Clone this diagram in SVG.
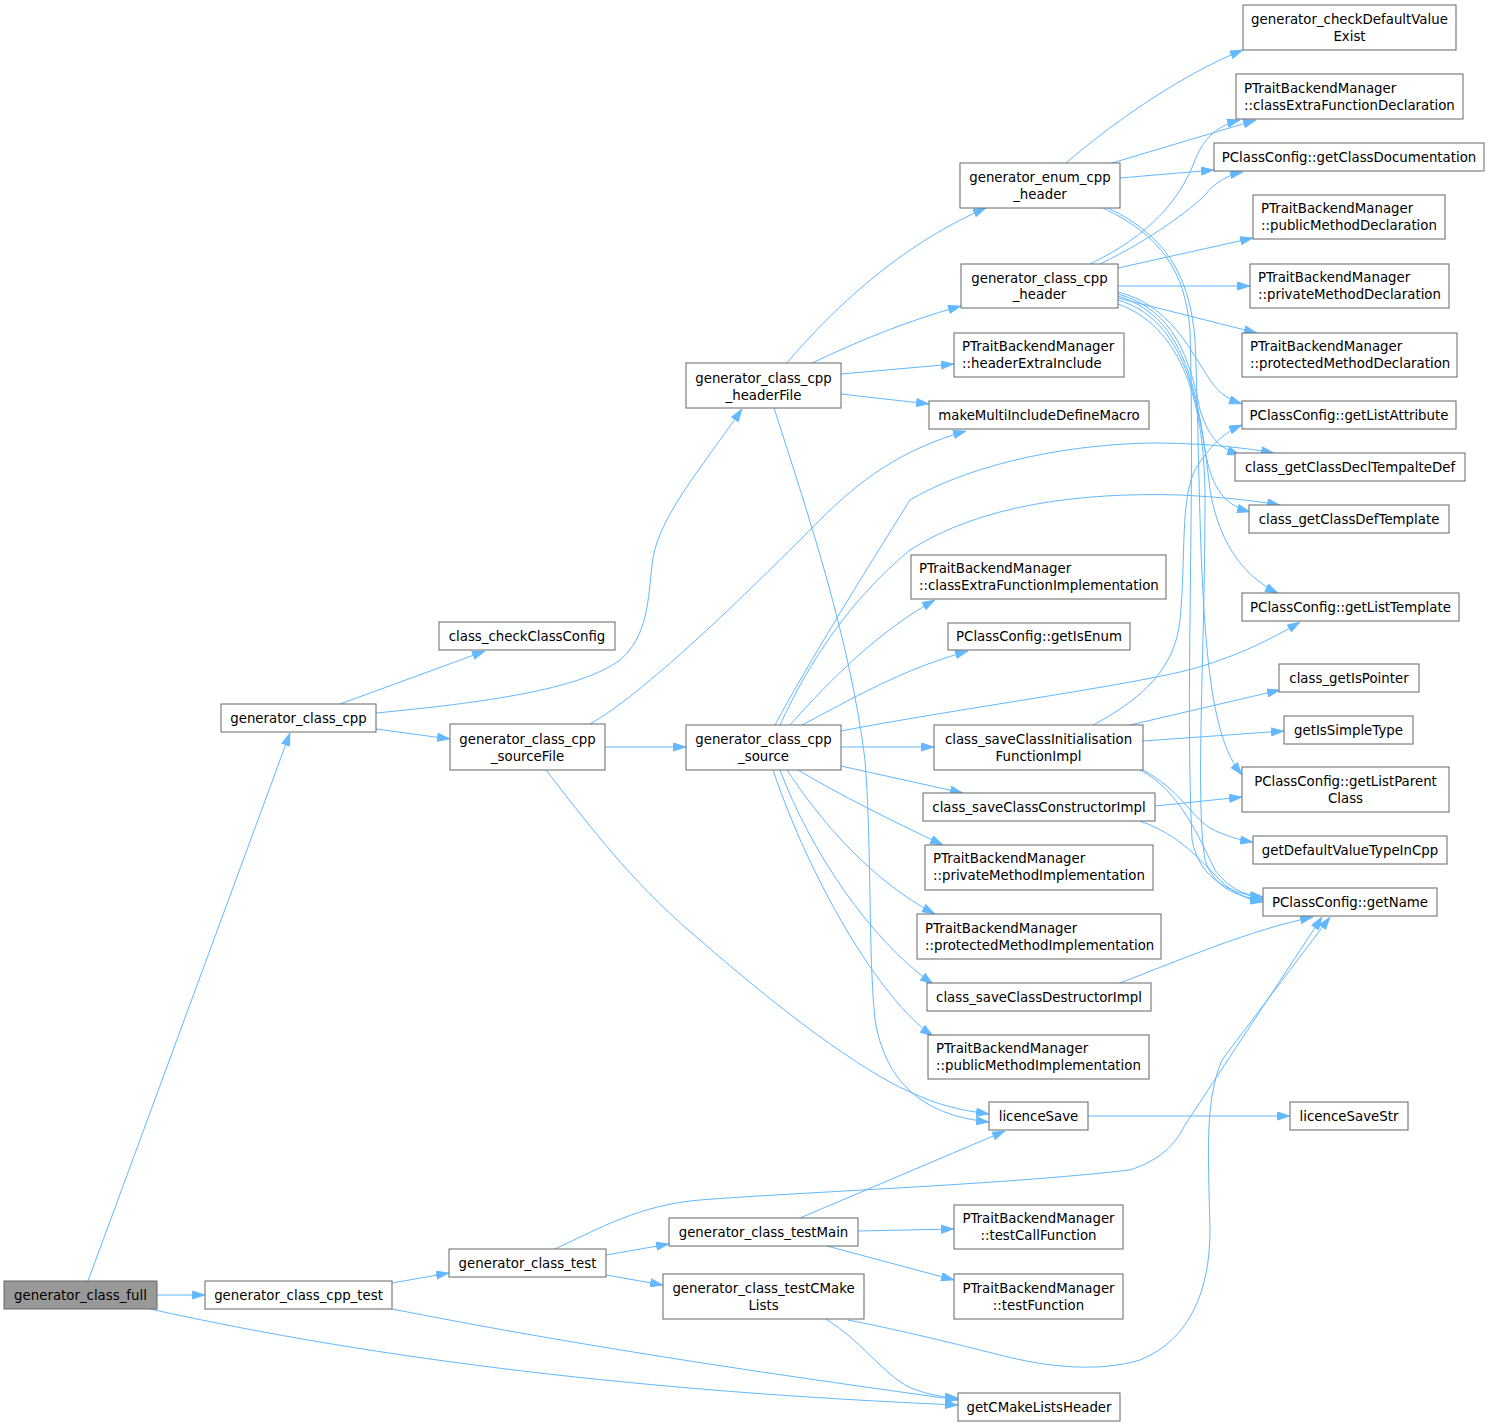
<svg xmlns="http://www.w3.org/2000/svg" width="1490" height="1427" viewBox="0 0 1490 1427">
<defs>
<marker id="arr" viewBox="0 0 13 9" refX="13" refY="4.5" markerWidth="13" markerHeight="9" markerUnits="userSpaceOnUse" orient="auto">
<path d="M0.5,0.5 L12.5,4.5 L0.5,8.5 z" fill="#63b8ff" stroke="#63b8ff" stroke-width="1"/>
</marker>
</defs>
<style>
.n rect{fill:#ffffff;stroke:#666666;stroke-width:1}
.root rect{fill:#999999;stroke:#666666;stroke-width:1}
text{font-family:"DejaVu Sans","Liberation Sans",sans-serif;font-size:13.33px;fill:#000000}
.c{text-anchor:middle}
.l{text-anchor:start}
#edges path{fill:none;stroke:#63b8ff;stroke-width:1;marker-end:url(#arr)}
</style>
<rect x="0" y="0" width="1490" height="1427" fill="#ffffff"/>
<g id="edges">
<path d="M88,1281 L290,733"/>
<path d="M157,1295 L205,1295"/>
<path d="M150,1309 C380,1360 650,1392 958,1405"/>
<path d="M392,1309 C600,1350 800,1378 958,1400"/>
<path d="M392,1283 L449,1273"/>
<path d="M340,704 L485,651"/>
<path d="M376,713 C480,703 580,690 620,660 C648,636 648,600 652,565 C656,520 700,470 742,409"/>
<path d="M376,729 L450,739"/>
<path d="M605,747 L686,747"/>
<path d="M590,724 C650,690 760,580 820,520 C860,480 900,450 966,431"/>
<path d="M546,770 C600,840 640,890 700,940 C780,1010 860,1070 910,1092 C940,1106 960,1110 989,1114"/>
<path d="M774,408 C810,520 850,640 865,760 C872,850 868,950 875,1020 C885,1080 920,1115 989,1122"/>
<path d="M786,364 C840,300 910,240 986,208"/>
<path d="M810,364 C860,340 910,320 961,306"/>
<path d="M841,374 L954,364"/>
<path d="M841,394 L929,404"/>
<path d="M1066,163 C1110,125 1180,75 1243,50"/>
<path d="M1112,163 L1256,120"/>
<path d="M1120,178 L1214,170"/>
<path d="M1103,208 C1160,235 1185,270 1190,330 C1195,500 1185,700 1192,840 C1200,880 1230,893 1263,898"/>
<path d="M1108,208 C1165,235 1190,275 1195,340 C1200,450 1198,600 1212,690 C1220,740 1230,760 1242,775"/>
<path d="M1090,264 C1150,235 1180,200 1195,160 C1205,135 1220,125 1240,120"/>
<path d="M1100,264 C1150,240 1190,210 1205,195 C1215,182 1228,175 1243,172"/>
<path d="M1118,268 L1253,238"/>
<path d="M1118,286 L1250,286"/>
<path d="M1118,298 L1257,333"/>
<path d="M1118,292 C1170,305 1190,350 1210,380 C1220,395 1230,400 1242,404"/>
<path d="M1118,294 C1175,310 1190,360 1200,410 C1210,440 1220,448 1240,455"/>
<path d="M1118,296 C1180,315 1195,380 1205,450 C1212,490 1225,505 1250,512"/>
<path d="M1118,300 C1185,320 1200,400 1210,490 C1220,550 1250,580 1278,593"/>
<path d="M1118,304 C1190,330 1205,420 1205,500 C1205,650 1195,800 1205,860 C1215,890 1240,897 1263,900"/>
<path d="M775,725 C810,660 860,580 910,500 C960,470 1050,445 1150,443 C1200,443 1240,447 1274,453"/>
<path d="M780,725 C810,660 850,600 910,550 C980,505 1080,492 1180,495 C1220,497 1250,500 1280,505"/>
<path d="M790,725 C830,680 880,630 935,600"/>
<path d="M802,725 C850,700 900,670 968,651"/>
<path d="M841,731 C950,710 1100,690 1180,672 C1230,660 1270,640 1300,622"/>
<path d="M841,747 L934,747"/>
<path d="M841,766 L963,793"/>
<path d="M798,770 C840,795 890,820 943,845"/>
<path d="M787,770 C820,820 870,880 935,914"/>
<path d="M780,770 C810,850 870,940 933,984"/>
<path d="M773,770 C810,880 880,1000 933,1036"/>
<path d="M1093,725 C1140,700 1175,670 1180,620 C1186,560 1180,500 1195,470 C1210,445 1225,432 1242,425"/>
<path d="M1130,725 L1280,690"/>
<path d="M1143,741 L1284,731"/>
<path d="M1143,770 C1180,790 1190,815 1210,828 C1225,836 1240,840 1253,842"/>
<path d="M1140,770 C1180,790 1200,840 1215,870 C1230,890 1245,895 1263,897"/>
<path d="M1155,806 L1242,797"/>
<path d="M1140,821 C1180,835 1200,860 1220,880 C1235,895 1250,900 1263,902"/>
<path d="M1120,983 C1180,960 1250,930 1313,917"/>
<path d="M555,1249 C600,1228 640,1205 700,1200 C800,1192 1000,1185 1130,1170 C1160,1160 1175,1145 1185,1125 L1322,917"/>
<path d="M848,1320 C900,1330 960,1345 1000,1355 C1050,1368 1100,1372 1140,1360 C1190,1340 1210,1290 1210,1230 C1208,1150 1205,1100 1222,1060 L1330,917"/>
<path d="M826,1319 C860,1340 880,1370 905,1385 C920,1393 940,1397 958,1398"/>
<path d="M606,1255 L669,1244"/>
<path d="M606,1275 L663,1285"/>
<path d="M800,1218 L1005,1131"/>
<path d="M858,1231 L954,1229"/>
<path d="M827,1246 L954,1280"/>
<path d="M1088,1116 L1290,1116"/>
</g>
<g id="n_generator_class_full" class="root"><rect x="4" y="1281" width="153" height="28"/><text class="c" x="80.5" y="1299.5">generator_class_full</text></g>
<g id="n_generator_class_cpp" class="n"><rect x="221" y="704" width="155" height="28"/><text class="c" x="298.5" y="722.5">generator_class_cpp</text></g>
<g id="n_generator_class_cpp_test" class="n"><rect x="205" y="1281" width="187" height="28"/><text class="c" x="298.5" y="1299.5">generator_class_cpp_test</text></g>
<g id="n_class_checkClassConfig" class="n"><rect x="439" y="622" width="176" height="28"/><text class="c" x="527" y="640.5">class_checkClassConfig</text></g>
<g id="n_generator_class_cpp_sourceFile" class="n"><rect x="450" y="724" width="155" height="46"/><text class="c" x="527.5" y="743.5">generator_class_cpp</text><text class="c" x="527.5" y="760.5">_sourceFile</text></g>
<g id="n_generator_class_test" class="n"><rect x="449" y="1249" width="157" height="28"/><text class="c" x="527.5" y="1267.5">generator_class_test</text></g>
<g id="n_generator_class_cpp_headerFile" class="n"><rect x="686" y="363" width="155" height="45"/><text class="c" x="763.5" y="382.5">generator_class_cpp</text><text class="c" x="763.5" y="399.5">_headerFile</text></g>
<g id="n_generator_class_cpp_source" class="n"><rect x="686" y="725" width="155" height="45"/><text class="c" x="763.5" y="743.5">generator_class_cpp</text><text class="c" x="763.5" y="760.5">_source</text></g>
<g id="n_generator_class_testMain" class="n"><rect x="669" y="1218" width="189" height="28"/><text class="c" x="763.5" y="1236.5">generator_class_testMain</text></g>
<g id="n_generator_class_testCMakeLists" class="n"><rect x="663" y="1274" width="201" height="45"/><text class="c" x="763.5" y="1292.5">generator_class_testCMake</text><text class="c" x="763.5" y="1309.5">Lists</text></g>
<g id="n_generator_enum_cpp_header" class="n"><rect x="960" y="163" width="160" height="45"/><text class="c" x="1040" y="181.5">generator_enum_cpp</text><text class="c" x="1040" y="198.5">_header</text></g>
<g id="n_generator_class_cpp_header" class="n"><rect x="961" y="264" width="157" height="44"/><text class="c" x="1039.5" y="282.5">generator_class_cpp</text><text class="c" x="1039.5" y="299">_header</text></g>
<g id="n_headerExtraInclude" class="n"><rect x="954" y="333" width="170" height="44"/><text class="l" x="962" y="351">PTraitBackendManager</text><text class="l" x="962" y="368">::headerExtraInclude</text></g>
<g id="n_makeMultiIncludeDefineMacro" class="n"><rect x="929" y="401" width="220" height="28"/><text class="c" x="1039" y="419.5">makeMultiIncludeDefineMacro</text></g>
<g id="n_classExtraFunctionImplementation" class="n"><rect x="911" y="555" width="255" height="44"/><text class="l" x="919" y="573">PTraitBackendManager</text><text class="l" x="919" y="590">::classExtraFunctionImplementation</text></g>
<g id="n_getIsEnum" class="n"><rect x="948" y="623" width="182" height="27"/><text class="c" x="1039" y="641">PClassConfig::getIsEnum</text></g>
<g id="n_class_saveClassInitialisationFunctionImpl" class="n"><rect x="934" y="725" width="209" height="45"/><text class="c" x="1038.5" y="743.5">class_saveClassInitialisation</text><text class="c" x="1038.5" y="760.5">FunctionImpl</text></g>
<g id="n_class_saveClassConstructorImpl" class="n"><rect x="923" y="793" width="232" height="28"/><text class="c" x="1039" y="811.5">class_saveClassConstructorImpl</text></g>
<g id="n_privateMethodImplementation" class="n"><rect x="925" y="845" width="228" height="45"/><text class="l" x="933" y="863">PTraitBackendManager</text><text class="l" x="933" y="880">::privateMethodImplementation</text></g>
<g id="n_protectedMethodImplementation" class="n"><rect x="917" y="914" width="244" height="45"/><text class="l" x="925" y="932.5">PTraitBackendManager</text><text class="l" x="925" y="949.5">::protectedMethodImplementation</text></g>
<g id="n_class_saveClassDestructorImpl" class="n"><rect x="927" y="983" width="224" height="28"/><text class="c" x="1039" y="1001.5">class_saveClassDestructorImpl</text></g>
<g id="n_publicMethodImplementation" class="n"><rect x="928" y="1035" width="221" height="44"/><text class="l" x="936" y="1052.5">PTraitBackendManager</text><text class="l" x="936" y="1069.5">::publicMethodImplementation</text></g>
<g id="n_licenceSave" class="n"><rect x="989" y="1102" width="99" height="28"/><text class="c" x="1038.5" y="1120.5">licenceSave</text></g>
<g id="n_testCallFunction" class="n"><rect x="954" y="1205" width="169" height="44"/><text class="c" x="1038.5" y="1223">PTraitBackendManager</text><text class="c" x="1038.5" y="1240">::testCallFunction</text></g>
<g id="n_testFunction" class="n"><rect x="954" y="1274" width="169" height="45"/><text class="c" x="1038.5" y="1292.5">PTraitBackendManager</text><text class="c" x="1038.5" y="1309.5">::testFunction</text></g>
<g id="n_getCMakeListsHeader" class="n"><rect x="958" y="1393" width="162" height="28"/><text class="c" x="1039" y="1411.5">getCMakeListsHeader</text></g>
<g id="n_generator_checkDefaultValueExist" class="n"><rect x="1243" y="5" width="213" height="45"/><text class="c" x="1349.5" y="23.5">generator_checkDefaultValue</text><text class="c" x="1349.5" y="40.5">Exist</text></g>
<g id="n_classExtraFunctionDeclaration" class="n"><rect x="1236" y="74" width="227" height="45"/><text class="l" x="1244" y="92.5">PTraitBackendManager</text><text class="l" x="1244" y="109.5">::classExtraFunctionDeclaration</text></g>
<g id="n_getClassDocumentation" class="n"><rect x="1214" y="143" width="270" height="28"/><text class="c" x="1349" y="161.5">PClassConfig::getClassDocumentation</text></g>
<g id="n_publicMethodDeclaration" class="n"><rect x="1253" y="195" width="192" height="44"/><text class="l" x="1261" y="212.5">PTraitBackendManager</text><text class="l" x="1261" y="229.5">::publicMethodDeclaration</text></g>
<g id="n_privateMethodDeclaration" class="n"><rect x="1250" y="264" width="199" height="44"/><text class="l" x="1258" y="281.5">PTraitBackendManager</text><text class="l" x="1258" y="298.5">::privateMethodDeclaration</text></g>
<g id="n_protectedMethodDeclaration" class="n"><rect x="1242" y="333" width="215" height="44"/><text class="l" x="1250" y="351">PTraitBackendManager</text><text class="l" x="1250" y="368">::protectedMethodDeclaration</text></g>
<g id="n_getListAttribute" class="n"><rect x="1242" y="401" width="214" height="28"/><text class="c" x="1349" y="419.5">PClassConfig::getListAttribute</text></g>
<g id="n_class_getClassDeclTempalteDef" class="n"><rect x="1235" y="453" width="230" height="28"/><text class="c" x="1350" y="471.5">class_getClassDeclTempalteDef</text></g>
<g id="n_class_getClassDefTemplate" class="n"><rect x="1249" y="505" width="200" height="28"/><text class="c" x="1349" y="523.5">class_getClassDefTemplate</text></g>
<g id="n_getListTemplate" class="n"><rect x="1242" y="593" width="217" height="28"/><text class="c" x="1350.5" y="611.5">PClassConfig::getListTemplate</text></g>
<g id="n_class_getIsPointer" class="n"><rect x="1279" y="664" width="140" height="28"/><text class="c" x="1349" y="682.5">class_getIsPointer</text></g>
<g id="n_getIsSimpleType" class="n"><rect x="1284" y="716" width="129" height="28"/><text class="c" x="1348.5" y="734.5">getIsSimpleType</text></g>
<g id="n_getListParentClass" class="n"><rect x="1242" y="767" width="207" height="45"/><text class="c" x="1345.5" y="785.5">PClassConfig::getListParent</text><text class="c" x="1345.5" y="802.5">Class</text></g>
<g id="n_getDefaultValueTypeInCpp" class="n"><rect x="1253" y="836" width="194" height="28"/><text class="c" x="1350" y="854.5">getDefaultValueTypeInCpp</text></g>
<g id="n_getName" class="n"><rect x="1263" y="888" width="174" height="28"/><text class="c" x="1350" y="906.5">PClassConfig::getName</text></g>
<g id="n_licenceSaveStr" class="n"><rect x="1290" y="1102" width="118" height="28"/><text class="c" x="1349" y="1120.5">licenceSaveStr</text></g>
</svg>
